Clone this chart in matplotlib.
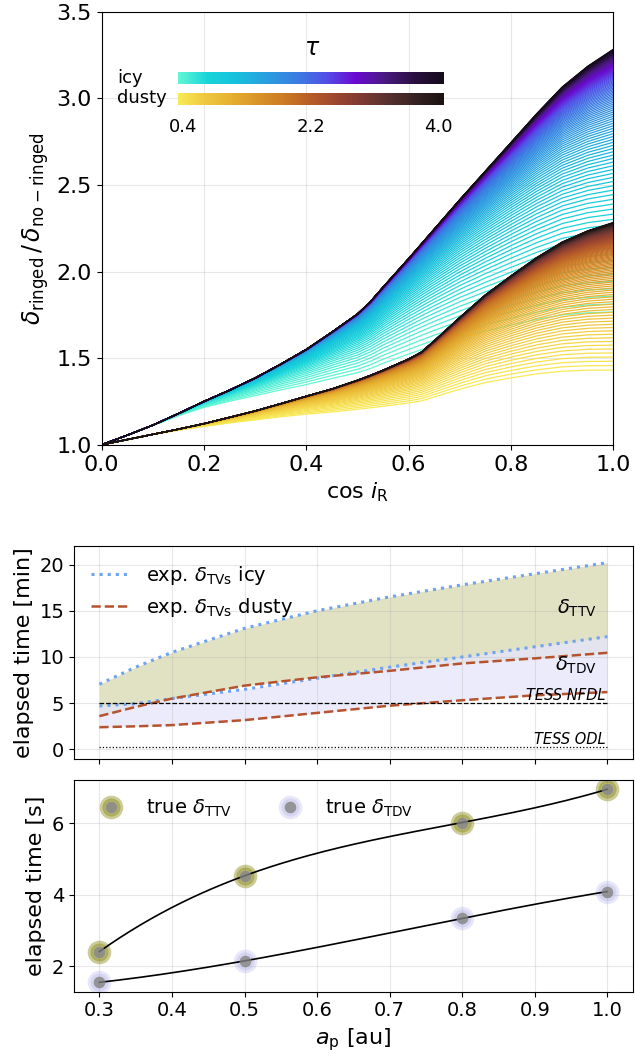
import numpy as np
import matplotlib
matplotlib.use("Agg")
import matplotlib.pyplot as plt
from matplotlib.collections import LineCollection
from matplotlib.colors import LinearSegmentedColormap, Normalize

# --- top panel: tau = 4.0 envelope of the transit-depth ratio
cos_i = [0.0, 0.05, 0.1, 0.15, 0.2, 0.25, 0.3, 0.35, 0.4, 0.45, 0.5, 0.525,
         0.55, 0.6, 0.625, 0.65, 0.7, 0.75, 0.8, 0.85, 0.9, 0.95, 1.0]
icy_top = [1.000, 1.055, 1.113, 1.180, 1.250, 1.315, 1.385, 1.465, 1.550, 1.650,
           1.755, 1.825, 1.910, 2.075, 2.160, 2.245, 2.415, 2.580, 2.745, 2.910,
           3.065, 3.185, 3.283]
dusty_top = [1.000, 1.030, 1.060, 1.090, 1.122, 1.158, 1.195, 1.237, 1.280, 1.322,
             1.372, 1.400, 1.430, 1.495, 1.535, 1.600, 1.735, 1.865, 1.975, 2.080,
             2.170, 2.235, 2.283]
tau_min, tau_max, tau_step = 0.4, 4.0, 0.03
tau_ticks = [0.4, 2.2, 4.0]

# --- middle panel: expected timing variations [min]
a_exp = [0.3, 0.35, 0.4, 0.5, 0.6, 0.7, 0.8, 0.9, 1.0]
ttv_icy = [7.05, 8.9, 10.5, 13.1, 15.0, 16.5, 17.8, 19.0, 20.2]
tdv_icy = [4.7, 4.95, 5.5, 6.5, 7.7, 8.9, 10.0, 11.1, 12.2]
ttv_dusty = [3.6, 4.6, 5.5, 6.9, 7.8, 8.5, 9.3, 9.85, 10.45]
tdv_dusty = [2.4, 2.5, 2.63, 3.17, 3.95, 4.73, 5.32, 5.85, 6.2]
tess_nfdl = 5.0
tess_odl = 0.3

# --- bottom panel: true timing variations [s]
a_true = [0.3, 0.5, 0.8, 1.0]
ttv_true = [2.41, 4.53, 6.02, 6.95]
tdv_true = [1.55, 2.15, 3.34, 4.09]

icy_cmap = LinearSegmentedColormap.from_list("icy", [
    "#62f8d4", "#16d4da", "#17c0dd", "#2a9ee0", "#3a7ee2", "#5250e8",
    "#6a0ad2", "#4a1a80", "#2a1040", "#140b1c"])
dusty_cmap = LinearSegmentedColormap.from_list("dusty", [
    "#f9ea55", "#f0c840", "#e6b030", "#d99428", "#cc7a24", "#b85c28",
    "#9a4530", "#7a3a33", "#54302e", "#352222", "#1a1212"])

fig = plt.figure(figsize=(6.35, 10.59), dpi=100)

# ---------------- top panel
ax = fig.add_axes([0.160, 0.580, 0.806, 0.409])
x = np.array(cos_i)
tau = np.arange(tau_min, tau_max + 1e-9, tau_step)
norm = Normalize(tau_min, tau_max)
with np.errstate(divide="ignore"):
    opac = 1 - np.exp(-tau[:, None] / x[None, :])
    opac_max = 1 - np.exp(-tau_max / x)
for top, cmap in ((icy_top, icy_cmap), (dusty_top, dusty_cmap)):
    fam = 1 + (np.array(top) - 1) * opac / opac_max
    segs = [np.column_stack([x, y]) for y in fam]
    ax.add_collection(LineCollection(segs, colors=cmap(norm(tau)), lw=0.9))

ax.set_xlim(0, 1)
ax.set_ylim(1, 3.5)
ax.set_xticks(np.arange(0, 1.01, 0.2))
ax.set_yticks(np.arange(1, 3.51, 0.5))
ax.tick_params(labelsize=16)
ax.grid(True, alpha=0.3)
ax.set_xlabel(r"$\cos\,i_{\rm R}$", fontsize=16)
ax.set_ylabel(r"$\delta_{\rm ringed}\,/\,\delta_{\rm no-ringed}$", fontsize=17)

grad = np.linspace(0, 1, 256)[None, :]
for cmap, rect in ((icy_cmap, [0.149, 0.833, 0.519, 0.027]),
                   (dusty_cmap, [0.149, 0.785, 0.519, 0.028])):
    cax = ax.inset_axes(rect)
    cax.imshow(grad, cmap=cmap, aspect="auto")
    cax.axis("off")
ax.text(0.0297, 0.847, "icy", transform=ax.transAxes, fontsize=13, va="center")
ax.text(0.0297, 0.800, "dusty", transform=ax.transAxes, fontsize=13, va="center")
ax.text(0.411, 0.9155, r"$\tau$", transform=ax.transAxes, fontsize=17,
        ha="center", va="center")
for t, xf in zip(tau_ticks, [0.160, 0.409, 0.657]):
    ax.text(xf, 0.734, f"{t:.1f}", transform=ax.transAxes, fontsize=13,
            ha="center", va="center")

# ---------------- middle panel
icy_c, dusty_c = "#6fa3f2", "#b5532e"
axm = fig.add_axes([0.1165, 0.2836, 0.880, 0.2008])
axm.fill_between(a_exp, ttv_dusty, ttv_icy, color="olive", alpha=0.23, lw=0)
axm.fill_between(a_exp, tdv_dusty, tdv_icy, color="lavender", alpha=0.8, lw=0)
axm.plot(a_exp, ttv_icy, ":", color=icy_c, lw=2.2, label=r"exp. $\delta_{\rm TVs}$ icy")
axm.plot(a_exp, tdv_icy, ":", color=icy_c, lw=2.2)
axm.plot(a_exp, ttv_dusty, "--", color=dusty_c, lw=1.8, label=r"exp. $\delta_{\rm TVs}$ dusty")
axm.plot(a_exp, tdv_dusty, "--", color=dusty_c, lw=1.8)
axm.hlines(tess_nfdl, a_exp[0], a_exp[-1], colors="k", linestyles="--", lw=0.9)
axm.hlines(tess_odl, a_exp[0], a_exp[-1], colors="k", linestyles=":", lw=0.9)
axm.text(0.997, tess_nfdl, "TESS NFDL", style="italic", fontsize=10.5,
         ha="right", va="bottom")
axm.text(0.997, tess_odl, "TESS ODL", style="italic", fontsize=10.5,
         ha="right", va="bottom")
axm.text(0.985, 15.3, r"$\delta_{\rm TTV}$", fontsize=14, ha="right", va="center")
axm.text(0.985, 9.1, r"$\delta_{\rm TDV}$", fontsize=14, ha="right", va="center")
axm.set_xlim(0.265, 1.035)
axm.set_ylim(-1.0, 22.0)
axm.set_xticks(np.arange(0.3, 1.01, 0.1))
axm.set_yticks([0, 5, 10, 15, 20])
axm.tick_params(labelsize=14, labelbottom=False)
axm.grid(True, alpha=0.3)
axm.set_ylabel("elapsed time [min]", fontsize=16)
axm.legend(loc="upper left", frameon=False, fontsize=14)

# ---------------- bottom panel
axb = fig.add_axes([0.1165, 0.0636, 0.880, 0.1999])
xs = np.linspace(a_true[0], a_true[-1], 200)
handles = []
for vals, halo_c, halo_a, lab in ((ttv_true, "olive", 0.4, r"true $\delta_{\rm TTV}$"),
                                  (tdv_true, "#a0a0e6", 0.25, r"true $\delta_{\rm TDV}$")):
    h1, = axb.plot(a_true, vals, "o", ms=13, mew=4, color=halo_c, alpha=halo_a,
                   ls="none", zorder=2)
    coef = np.polyfit(a_true, vals, 3)
    axb.plot(xs, np.polyval(coef, xs), color="k", lw=1.2, zorder=3)
    h2, = axb.plot(a_true, vals, "o", ms=8.5, mew=0, color="grey", alpha=0.8,
                   ls="none", zorder=4)
    handles.append(((h1, h2), lab))
axb.set_xlim(0.265, 1.035)
axb.set_ylim(1.29, 7.21)
axb.set_xticks(np.arange(0.3, 1.01, 0.1))
axb.set_yticks([2, 4, 6])
axb.tick_params(labelsize=14)
axb.grid(True, alpha=0.3)
axb.set_ylabel("elapsed time [s]", fontsize=16)
axb.set_xlabel(r"$a_{\rm p}$ [au]", fontsize=16)
axb.legend([h for h, _ in handles], [l for _, l in handles], loc="upper left",
           ncol=2, frameon=False, fontsize=14)

fig.savefig("out.png", dpi=100)
